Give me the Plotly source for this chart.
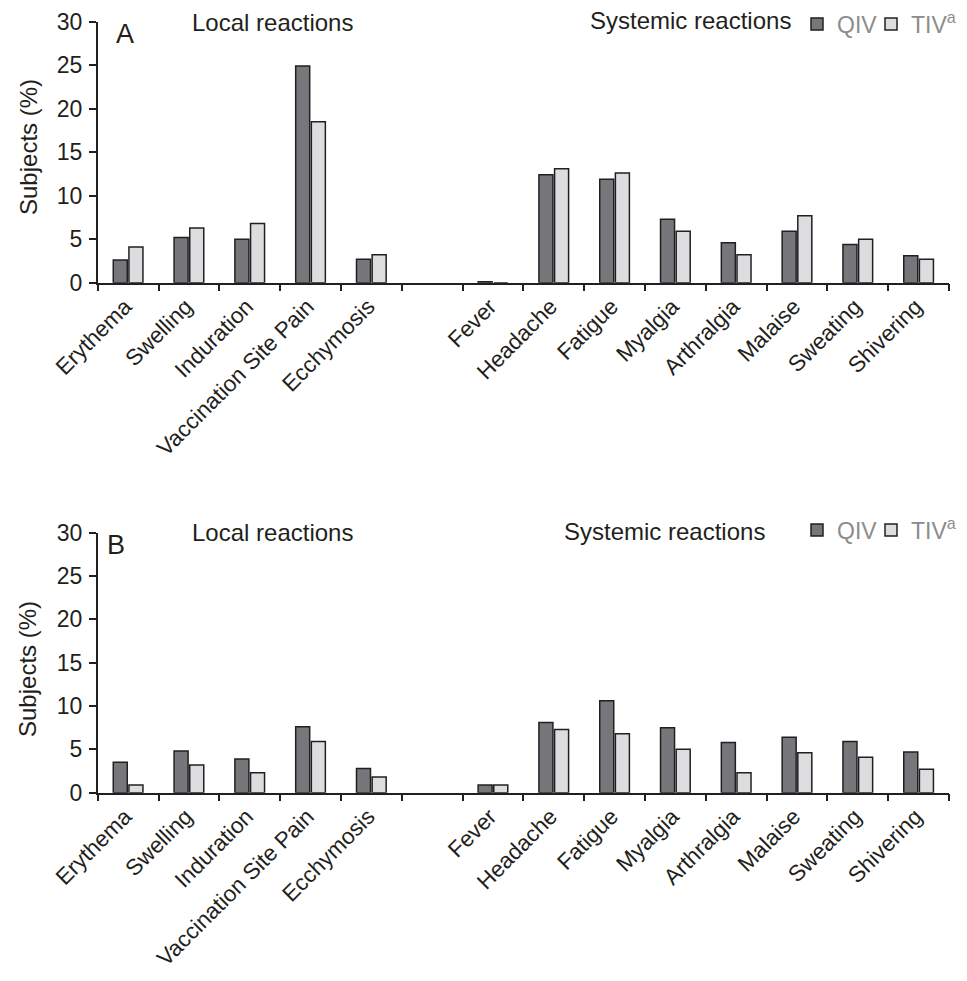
import plotly.graph_objects as go

categories = ["Erythema", "Swelling", "Induration", "Vaccination Site Pain", "Ecchymosis", " ",
              "Fever", "Headache", "Fatigue", "Myalgia", "Arthralgia", "Malaise", "Sweating", "Shivering"]

qiv_a = [2.6, 5.2, 5.0, 24.9, 2.7, None, 0.1, 12.4, 11.9, 7.3, 4.6, 5.9, 4.4, 3.1]
tiv_a = [4.1, 6.3, 6.8, 18.5, 3.2, None, 0.0, 13.1, 12.6, 5.9, 3.2, 7.7, 5.0, 2.7]

qiv_b = [3.5, 4.8, 3.9, 7.6, 2.8, None, 0.9, 8.1, 10.6, 7.5, 5.8, 6.4, 5.9, 4.7]
tiv_b = [0.9, 3.2, 2.3, 5.9, 1.8, None, 0.9, 7.3, 6.8, 5.0, 2.3, 4.6, 4.1, 2.7]

y_ticks = [0, 5, 10, 15, 20, 25, 30]

# the page body keeps its default 8px margin on every side; size the figure so the
# page exactly fills the 967x981 window and convert window pixels to paper fractions
OFF = 8
W, H = 967 - 2 * OFF, 981 - 2 * OFF
FONT = "Liberation Sans, Arial, Helvetica, sans-serif"
INK = "#231f20"
QIV_COL = "#76777b"
TIV_COL = "#dcdddf"
LEG_COL = "#8c8c8c"


def px_x(v):
    return (v - OFF) / W


def px_y(v):
    return 1 - (v - OFF) / H


fig = go.Figure()

for i, (q, t) in enumerate([(qiv_a, tiv_a), (qiv_b, tiv_b)]):
    sfx = "" if i == 0 else "2"
    leg = "legend" if i == 0 else "legend2"
    fig.add_trace(go.Bar(x=categories, y=q, name="QIV", xaxis="x" + sfx, yaxis="y" + sfx,
                         marker=dict(color=QIV_COL, line=dict(color=INK, width=1.5)),
                         legend=leg, offsetgroup="q", legendwidth=29))
    fig.add_trace(go.Bar(x=categories, y=t, name="TIV<sup>a</sup>", xaxis="x" + sfx, yaxis="y" + sfx,
                         marker=dict(color=TIV_COL, line=dict(color=INK, width=1.5)),
                         legend=leg, offsetgroup="t", legendwidth=50))

xdom = [px_x(97.7), px_x(949)]
ydomA = [px_y(282.7), px_y(21.7)]
ydomB = [px_y(792.7), px_y(532.7)]

xax = dict(type="category", categoryorder="array", categoryarray=categories,
           range=[-0.5, len(categories) - 0.5], domain=xdom,
           showline=True, linecolor=INK, linewidth=1.5, ticks="outside", ticklen=7,
           tickwidth=1.5, tickcolor=INK, tickson="boundaries", tickangle=-45,
           ticklabelshift=-3, ticklabelstandoff=0,
           tickfont=dict(family=FONT, size=22.5, color=INK), showgrid=False, zeroline=False,
           automargin=False, fixedrange=True)
yax = dict(range=[0, 30], tickvals=y_ticks, showline=True, linecolor=INK, linewidth=1.5,
           ticks="outside", ticklen=7, tickwidth=1.5, tickcolor=INK,
           tickfont=dict(family=FONT, size=23, color=INK), showgrid=False, zeroline=False,
           automargin=False, ticklabelstandoff=2, fixedrange=True)

leg_common = dict(orientation="h", x=px_x(797), xanchor="left", yanchor="middle",
                  font=dict(family=FONT, size=23, color=LEG_COL),
                  bgcolor="rgba(0,0,0,0)", itemclick=False, itemdoubleclick=False)

fig.update_layout(
    width=W, height=H, margin=dict(l=0, r=0, t=0, b=0, autoexpand=False),
    paper_bgcolor="white", plot_bgcolor="white",
    barmode="group", bargap=0.485, bargroupgap=0.105,
    xaxis=dict(xax, anchor="y"), yaxis=dict(yax, domain=ydomA, anchor="x"),
    xaxis2=dict(xax, anchor="y2"), yaxis2=dict(yax, domain=ydomB, anchor="x2"),
    font=dict(family=FONT, color=INK),
    legend=dict(leg_common, y=px_y(24)),
    legend2=dict(leg_common, y=px_y(530)),
)

ann = []


def add_text(text, x, y, size=24, angle=0):
    ann.append(dict(text=text, x=px_x(x), y=px_y(y), xref="paper", yref="paper",
                    xanchor="center", yanchor="middle", showarrow=False, textangle=angle,
                    font=dict(family=FONT, size=size, color=INK)))


add_text("Local reactions", 272, 22)
add_text("Systemic reactions", 690, 21)
add_text("A", 125, 34, size=27)
add_text("Subjects (%)", 28, 147, angle=-90)
add_text("Local reactions", 272, 532)
add_text("Systemic reactions", 664, 531)
add_text("B", 115.5, 545, size=27)
add_text("Subjects (%)", 27, 669, angle=-90)

fig.update_layout(annotations=ann)

fig.write_html("out.html")
